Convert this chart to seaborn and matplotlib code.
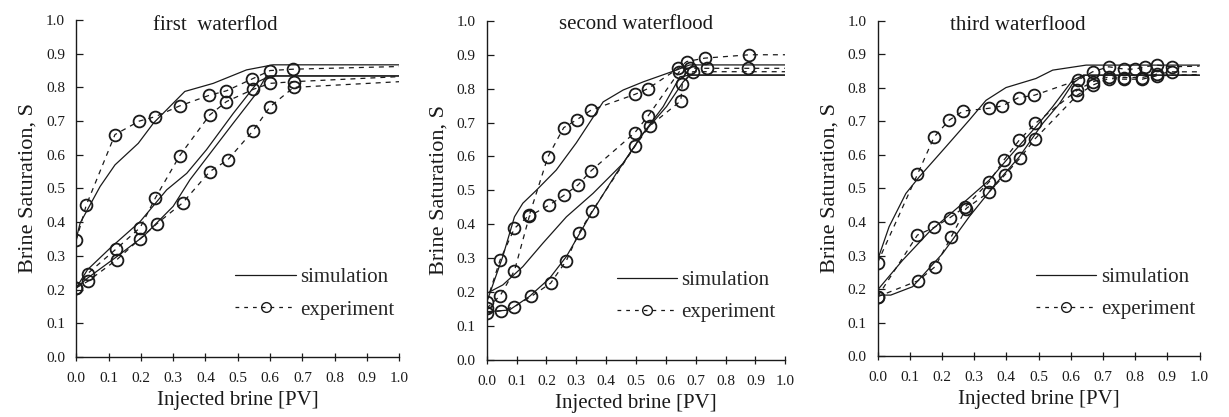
import matplotlib
matplotlib.use("Agg")
import matplotlib.pyplot as plt
import seaborn as sns
from matplotlib.lines import Line2D

# ---------------- data ----------------
# Panel 1: first waterflood
p1_exp_a_x = [0.0, 0.031, 0.12, 0.195, 0.244, 0.32, 0.41, 0.465, 0.544, 0.60, 0.67, 1.0]
p1_exp_a_y = [0.346, 0.45, 0.66, 0.70, 0.713, 0.745, 0.776, 0.79, 0.825, 0.85, 0.854, 0.862]
p1_exp_b_x = [0.0, 0.035, 0.123, 0.198, 0.245, 0.32, 0.413, 0.465, 0.547, 0.60, 0.673, 1.0]
p1_exp_b_y = [0.205, 0.247, 0.32, 0.384, 0.472, 0.597, 0.718, 0.758, 0.794, 0.812, 0.817, 0.832]
p1_exp_c_x = [0.0, 0.035, 0.126, 0.198, 0.249, 0.33, 0.413, 0.469, 0.547, 0.60, 0.673, 1.0]
p1_exp_c_y = [0.205, 0.224, 0.289, 0.351, 0.395, 0.458, 0.55, 0.585, 0.671, 0.743, 0.80, 0.817]
p1_sim_a_x = [0.0, 0.012, 0.074, 0.12, 0.192, 0.239, 0.336, 0.424, 0.527, 0.609, 1.0]
p1_sim_a_y = [0.35, 0.397, 0.506, 0.57, 0.634, 0.694, 0.788, 0.812, 0.852, 0.867, 0.867]
p1_sim_b_x = [0.0, 0.035, 0.105, 0.198, 0.28, 0.342, 0.403, 0.486, 0.563, 0.60, 1.0]
p1_sim_b_y = [0.205, 0.259, 0.323, 0.402, 0.496, 0.545, 0.615, 0.723, 0.817, 0.834, 0.834]
p1_sim_c_x = [0.0, 0.035, 0.126, 0.208, 0.30, 0.352, 0.403, 0.486, 0.558, 0.588, 1.0]
p1_sim_c_y = [0.205, 0.234, 0.298, 0.358, 0.447, 0.526, 0.59, 0.694, 0.783, 0.834, 0.834]

# Panel 2: second waterflood
p2_exp_a_x = [0.0, 0.045, 0.093, 0.143, 0.205, 0.258, 0.303, 0.35, 0.496, 0.54, 0.642, 0.67, 0.73, 0.88, 1.0]
p2_exp_a_y = [0.172, 0.295, 0.388, 0.427, 0.599, 0.685, 0.709, 0.737, 0.783, 0.80, 0.86, 0.88, 0.89, 0.90, 0.90]
p2_exp_b_x = [0.0, 0.045, 0.093, 0.143, 0.21, 0.258, 0.306, 0.35, 0.496, 0.54, 0.645, 0.68, 0.737, 0.875, 1.0]
p2_exp_b_y = [0.152, 0.189, 0.263, 0.424, 0.457, 0.485, 0.516, 0.558, 0.67, 0.719, 0.85, 0.86, 0.86, 0.86, 0.86]
p2_exp_c_x = [0.0, 0.048, 0.093, 0.149, 0.214, 0.267, 0.308, 0.354, 0.497, 0.546, 0.65, 0.655, 0.69, 1.0]
p2_exp_c_y = [0.138, 0.145, 0.157, 0.187, 0.226, 0.293, 0.373, 0.44, 0.631, 0.69, 0.764, 0.815, 0.85, 0.85]
p2_sim_a_x = [0.0, 0.054, 0.093, 0.121, 0.166, 0.233, 0.30, 0.39, 0.457, 0.524, 0.636, 0.68, 1.0]
p2_sim_a_y = [0.17, 0.305, 0.422, 0.462, 0.50, 0.56, 0.64, 0.761, 0.796, 0.82, 0.855, 0.87, 0.87]
p2_sim_b_x = [0.0, 0.054, 0.121, 0.188, 0.267, 0.356, 0.457, 0.524, 0.591, 0.647, 0.68, 1.0]
p2_sim_b_y = [0.196, 0.221, 0.275, 0.344, 0.422, 0.491, 0.58, 0.668, 0.747, 0.835, 0.84, 0.84]
p2_sim_c_x = [0.0, 0.076, 0.143, 0.21, 0.267, 0.35, 0.434, 0.524, 0.602, 0.658, 0.68, 1.0]
p2_sim_c_y = [0.142, 0.147, 0.187, 0.24, 0.305, 0.432, 0.55, 0.668, 0.747, 0.82, 0.84, 0.84]

# Panel 3: third waterflood
p3_exp_a_x = [0.0, 0.124, 0.176, 0.223, 0.266, 0.345, 0.387, 0.438, 0.487, 0.622, 0.668, 0.718, 0.767, 0.80, 0.83, 0.867, 0.915, 1.0]
p3_exp_a_y = [0.278, 0.542, 0.654, 0.704, 0.731, 0.739, 0.746, 0.771, 0.778, 0.823, 0.848, 0.863, 0.856, 0.856, 0.863, 0.868, 0.863, 0.865]
p3_exp_b_x = [0.0, 0.124, 0.176, 0.225, 0.272, 0.347, 0.392, 0.44, 0.49, 0.62, 0.668, 0.718, 0.767, 0.822, 0.867, 0.915, 1.0]
p3_exp_b_y = [0.177, 0.361, 0.384, 0.413, 0.445, 0.52, 0.584, 0.644, 0.694, 0.793, 0.818, 0.833, 0.831, 0.831, 0.841, 0.848, 0.848]
p3_exp_c_x = [0.0, 0.126, 0.178, 0.228, 0.275, 0.347, 0.395, 0.442, 0.49, 0.62, 0.668, 0.718, 0.767, 0.822, 0.867, 1.0]
p3_exp_c_y = [0.177, 0.225, 0.266, 0.354, 0.44, 0.49, 0.54, 0.59, 0.649, 0.778, 0.808, 0.828, 0.826, 0.826, 0.836, 0.84]
p3_sim_a_x = [0.0, 0.036, 0.088, 0.13, 0.212, 0.285, 0.337, 0.399, 0.492, 0.544, 0.648, 1.0]
p3_sim_a_y = [0.286, 0.386, 0.485, 0.535, 0.624, 0.704, 0.763, 0.801, 0.828, 0.853, 0.868, 0.868]
p3_sim_b_x = [0.0, 0.078, 0.161, 0.264, 0.347, 0.409, 0.492, 0.544, 0.606, 0.64, 1.0]
p3_sim_b_y = [0.197, 0.286, 0.371, 0.455, 0.525, 0.594, 0.684, 0.744, 0.823, 0.838, 0.838]
p3_sim_c_x = [0.0, 0.041, 0.109, 0.202, 0.285, 0.368, 0.44, 0.513, 0.565, 0.606, 0.64, 1.0]
p3_sim_c_y = [0.182, 0.182, 0.207, 0.306, 0.416, 0.515, 0.594, 0.694, 0.753, 0.813, 0.838, 0.838]

titles = ["first  waterflod", "second waterflood", "third waterflood"]
tick_values = [0.0, 0.1, 0.2, 0.3, 0.4, 0.5, 0.6, 0.7, 0.8, 0.9, 1.0]
tick_labels = ["0.0", "0.1", "0.2", "0.3", "0.4", "0.5", "0.6", "0.7", "0.8", "0.9", "1.0"]
legend_labels = ["simulation", "experiment"]

panels = [
    dict(exp=[(p1_exp_a_x, p1_exp_a_y), (p1_exp_b_x, p1_exp_b_y), (p1_exp_c_x, p1_exp_c_y)],
         sim=[(p1_sim_a_x, p1_sim_a_y), (p1_sim_b_x, p1_sim_b_y), (p1_sim_c_x, p1_sim_c_y)]),
    dict(exp=[(p2_exp_a_x, p2_exp_a_y), (p2_exp_b_x, p2_exp_b_y), (p2_exp_c_x, p2_exp_c_y)],
         sim=[(p2_sim_a_x, p2_sim_a_y), (p2_sim_b_x, p2_sim_b_y), (p2_sim_c_x, p2_sim_c_y)]),
    dict(exp=[(p3_exp_a_x, p3_exp_a_y), (p3_exp_b_x, p3_exp_b_y), (p3_exp_c_x, p3_exp_c_y)],
         sim=[(p3_sim_a_x, p3_sim_a_y), (p3_sim_b_x, p3_sim_b_y), (p3_sim_c_x, p3_sim_c_y)]),
]

# ---------------- style ----------------
sns.set_style("ticks")
plt.rcParams["font.family"] = ["Liberation Serif", "DejaVu Serif"]
INK = "#1a1a1a"

fig = plt.figure(figsize=(12.29, 4.17), dpi=100)
axes_rects = [
    [0.062, 0.144, 0.263, 0.808],
    [0.396, 0.137, 0.243, 0.813],
    [0.714, 0.146, 0.262, 0.804],
]
title_pos = [(0.43, 0.985), (0.50, 0.99), (0.435, 0.985)]
legend_anchor = [(0.46, 0.08), (0.40, 0.08), (0.46, 0.08)]

for i, (rect, pdata) in enumerate(zip(axes_rects, panels)):
    ax = fig.add_axes(rect)
    for (xs, ys) in pdata["sim"]:
        sns.lineplot(x=xs, y=ys, ax=ax, sort=False, estimator=None, color=INK,
                     linewidth=0.9, linestyle="-")
    for (xs, ys) in pdata["exp"]:
        sns.lineplot(x=xs, y=ys, ax=ax, sort=False, estimator=None, color=INK,
                     linewidth=0.9, linestyle=(0, (4, 4)), marker="o",
                     markersize=8.5, markerfacecolor="none", markeredgecolor=INK,
                     markeredgewidth=1.3, markevery=list(range(len(xs) - 1)))
    ax.set_xlim(0, 1.0)
    ax.set_ylim(0, 1.0)
    ax.set_xticks(tick_values)
    ax.set_xticklabels(tick_labels, fontsize=11)
    ax.set_yticks(tick_values)
    ax.set_yticklabels(tick_labels, fontsize=11)
    ax.tick_params(axis="x", direction="inout", length=6, width=0.9, colors=INK, pad=8)
    ax.tick_params(axis="y", direction="in", length=5, width=0.9, colors=INK, pad=8)
    for s in ["top", "right"]:
        ax.spines[s].set_visible(False)
    for s in ["left", "bottom"]:
        ax.spines[s].set_color(INK)
        ax.spines[s].set_linewidth(1.0)
    ax.set_xlabel("Injected brine [PV]", fontsize=15, color=INK, labelpad=4)
    ax.set_ylabel("Brine Saturation, S", fontsize=16, color=INK, labelpad=6)
    ax.text(title_pos[i][0], title_pos[i][1], titles[i], transform=ax.transAxes,
            ha="center", va="center", fontsize=15, color=INK)
    handles = [
        Line2D([], [], color=INK, linewidth=0.9, linestyle="-"),
        Line2D([], [], color=INK, linewidth=0.9, linestyle=(0, (3, 4)), marker="o",
               markersize=7, markerfacecolor="none", markeredgecolor=INK),
    ]
    ax.legend(handles, legend_labels, loc="lower left", bbox_to_anchor=legend_anchor[i],
              frameon=False, fontsize=15, handlelength=2.9, handletextpad=0.2,
              labelspacing=0.6, borderpad=0)

fig.savefig("out.png", dpi=100, facecolor="white")
